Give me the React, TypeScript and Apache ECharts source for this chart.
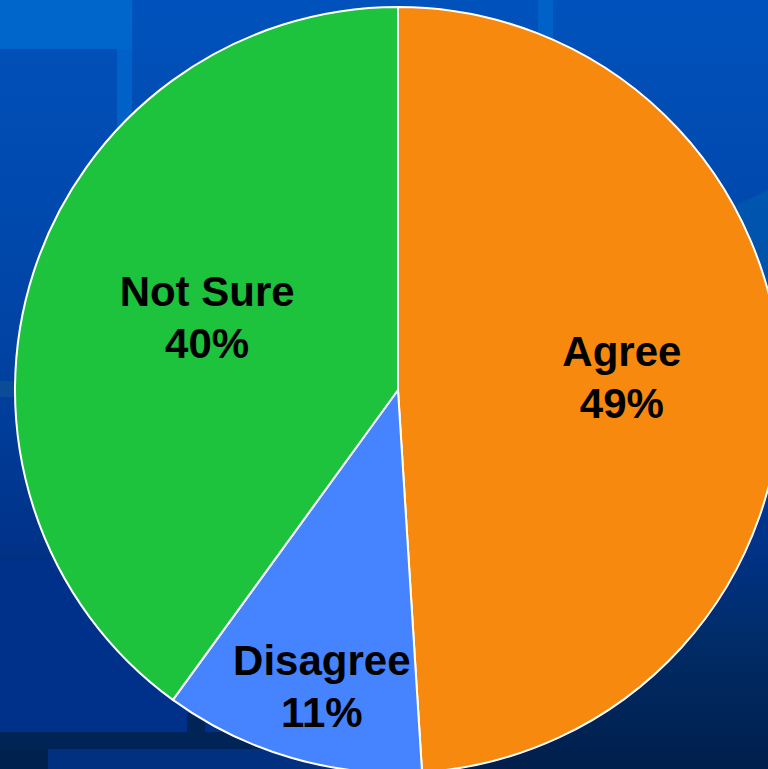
import React, { useEffect, useRef } from "react";
import * as echarts from "echarts";

const categories = ["Agree", "Disagree", "Not Sure"];
const values = [49, 11, 40];
const sliceColors = ["#F7890F", "#4583FF", "#1DC23D"];
// radius (px) at which each slice's label sits, and small nudges
const labelRadii = [224, 306, 204];
const labelNudges = [
  [-3, -5],
  [10, 0],
  [6, -9],
];

const CENTER = [398, 390];
const RADIUS = 383;

export default function App() {
  const ref = useRef<HTMLDivElement>(null);

  useEffect(() => {
    if (!ref.current) return;
    const chart = echarts.init(ref.current, undefined, { renderer: "svg" });

    const baseData = categories.map((name, i) => ({
      name,
      value: values[i],
      itemStyle: { color: sliceColors[i] },
    }));

    const labelSeries = categories.map((_, k) => ({
      type: "pie",
      silent: true,
      z: 3,
      center: CENTER,
      radius: [labelRadii[k] - 1, labelRadii[k] + 1],
      avoidLabelOverlap: false,
      itemStyle: { color: "rgba(0,0,0,0)", borderWidth: 0 },
      labelLine: { show: false },
      emphasis: { disabled: true },
      labelLayout: { dx: labelNudges[k][0], dy: labelNudges[k][1] },
      data: categories.map((name, i) => ({
        name,
        value: values[i],
        label: {
          show: i === k,
          position: "inside",
          formatter: "{b}\n{d}%",
          color: "#000",
          fontFamily: "'Liberation Sans', Arial, sans-serif",
          fontWeight: "bold",
          fontSize: 42,
          lineHeight: 52,
        },
      })),
    }));

    const bgRect = (x: number, y: number, w: number, h: number, fill: string) => ({
      type: "rect",
      z: 0,
      silent: true,
      shape: { x, y, width: w, height: h },
      style: { fill },
    });

    chart.setOption({
      animation: false,
      backgroundColor: new echarts.graphic.LinearGradient(0, 0, 0, 1, [
        { offset: 0, color: "#0052BC" },
        { offset: 0.45, color: "#0043A4" },
        { offset: 0.7, color: "#00338A" },
        { offset: 0.83, color: "#002C68" },
        { offset: 1, color: "#001F4C" },
      ]),
      graphic: [
        bgRect(0, 0, 132, 49, "#0066CC"),
        bgRect(117, 49, 15, 90, "#0062C8"),
        bgRect(538, 0, 15, 50, "#0062C8"),
        bgRect(0, 381, 16, 16, "#0A4C96"),
        {
          type: "polygon",
          z: 0,
          silent: true,
          shape: { points: [[737, 205], [768, 190], [768, 430], [737, 430]] },
          style: {
            fill: new echarts.graphic.LinearGradient(0, 0, 0, 1, [
              { offset: 0, color: "#0056B0" },
              { offset: 1, color: "#00489C" },
            ]),
          },
        },
        bgRect(0, 560, 440, 172, "#00318A"),
        bgRect(187, 713, 18, 19, "#002456"),
        bgRect(0, 732, 440, 17, "#002456"),
        bgRect(0, 749, 48, 20, "#00204E"),
        bgRect(48, 749, 392, 20, "#00307F"),
      ],
      series: [
        {
          type: "pie",
          z: 2,
          center: CENTER,
          radius: RADIUS,
          startAngle: 90,
          clockwise: true,
          avoidLabelOverlap: false,
          silent: true,
          itemStyle: { borderColor: "#FFFFFF", borderWidth: 2 },
          label: { show: false },
          labelLine: { show: false },
          data: baseData,
        },
        ...labelSeries,
      ],
    });

    return () => chart.dispose();
  }, []);

  return (
    <div
      ref={ref}
      style={{ position: "fixed", left: 0, top: 0, width: 768, height: 769 }}
    />
  );
}
